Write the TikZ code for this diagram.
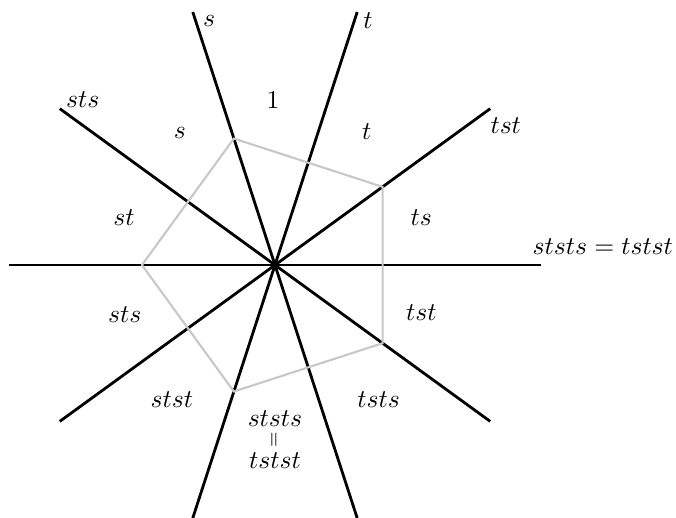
\documentclass[tikz,border=0pt]{standalone}
\usepackage{graphicx}
\begin{document}
\begin{tikzpicture}[
    wall/.style={line width=1.2pt},
    lbl/.style={font=\fontsize{10.95}{13}\selectfont},
  ]
  \useasboundingbox (-4.135,-3.789) rectangle (6.030,3.985);
  % the five reflecting lines, 36 degrees apart
  \foreach \a in {0,36,72,108,144} {
    \coordinate (p\a) at (\a:4);
    \coordinate (q\a) at (\a+180:4);
    \draw[wall] (p\a) -- (q\a);
  }
  % orbit of a generic point: one vertex on every second wall
  \foreach \a in {180,108,36,-36,-108}
    \coordinate (v\a) at (\a:2);
  \draw[black!22, line width=0.9pt] (v180) -- (v108) -- (v36) -- (v-36) -- (v-108) -- cycle;
  % names of the walls
  \node[lbl] (ws) at (-0.99,3.67) {$s$};
  \node[lbl] (wt) at (1.40,3.67) {$t$};
  \node[lbl] (wsts) at (-2.89,2.48) {$sts$};
  \node[lbl] (wtst) at (3.47,2.09) {$tst$};
  \node[lbl] (wlong) at (4.93,0.27) {$ststs = tstst$};
  % names of the chambers
  \node[lbl] (c1) at (-0.03,2.48) {$1$};
  \node[lbl] (ct) at (1.38,2.00) {$t$};
  \node[lbl] (cts) at (2.20,0.72) {$ts$};
  \node[lbl] (ctst) at (2.20,-0.72) {$tst$};
  \node[lbl] (ctsts) at (1.56,-2.02) {$tsts$};
  \node[lbl, align=center, inner sep=0pt] (clong) at (0,-2.63)
    {$ststs$\\[-4pt]\rotatebox{90}{$\scriptstyle=$}\\[-4pt]$tstst$};
  \node[lbl] (cstst) at (-1.55,-2.02) {$stst$};
  \node[lbl] (csts) at (-2.26,-0.75) {$sts$};
  \node[lbl] (cst) at (-2.27,0.72) {$st$};
  \node[lbl] (cs) at (-1.43,1.98) {$s$};
\end{tikzpicture}
\end{document}
